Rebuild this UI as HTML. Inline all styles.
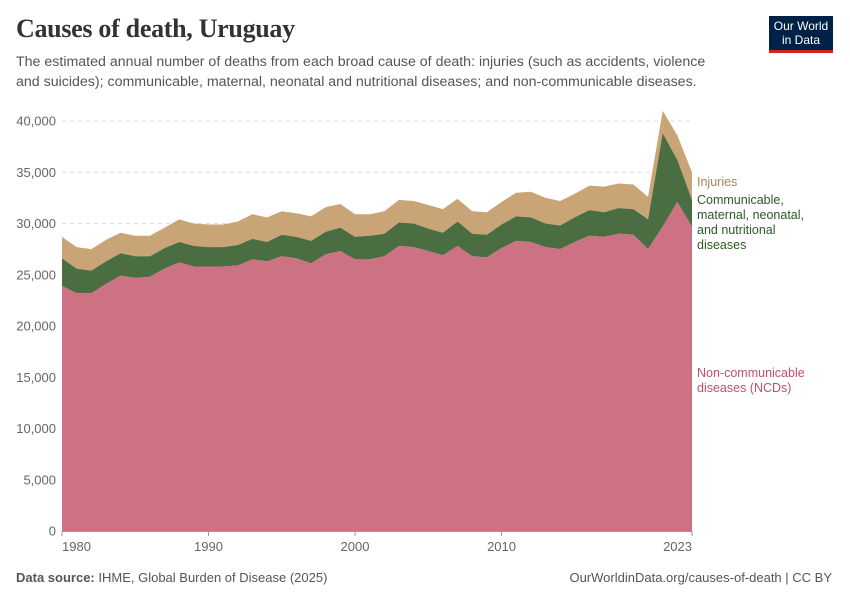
<!DOCTYPE html>
<html><head><meta charset="utf-8"><style>
body{margin:0;background:#fff;font-family:"Liberation Sans",sans-serif;}
#wrap{position:relative;width:850px;height:600px;overflow:hidden;}
.t{position:absolute;white-space:nowrap;}
</style></head><body>
<div id="wrap">
<div class="t" style="left:16px;top:14px;font-family:'Liberation Serif',serif;font-size:26px;font-weight:bold;color:#333;letter-spacing:-0.3px;">Causes of death, Uruguay</div>
<div class="t" style="left:16px;top:52px;font-size:14.2px;line-height:20px;color:#555;">The estimated annual number of deaths from each broad cause of death: injuries (such as accidents, violence<br>and suicides); communicable, maternal, neonatal and nutritional diseases; and non-communicable diseases.</div>
<div style="position:absolute;left:769px;top:16px;width:64px;background:#002147;border-bottom:3px solid #ce261e;color:#fff;font-size:12px;line-height:14px;text-align:center;padding-top:3px;box-sizing:border-box;height:37px;">Our World<br>in Data</div>
<svg id="chart" width="850" height="600" style="position:absolute;left:0;top:0"></svg>
<div class="t" style="left:16px;top:570px;font-size:13px;color:#555;"><b>Data source:</b> IHME, Global Burden of Disease (2025)</div>
<div class="t" style="right:18px;top:570px;font-size:13px;color:#555;">OurWorldinData.org/causes-of-death | CC BY</div>
</div>
<script>
const years=[];for(let y=1980;y<=2023;y++)years.push(y);
const ncd=[23900,23200,23200,24100,24900,24700,24800,25600,26200,25800,25800,25800,25900,26500,26300,26800,26600,26100,27000,27300,26500,26500,26800,27800,27700,27300,26900,27800,26800,26700,27600,28300,28200,27700,27500,28200,28800,28700,29000,28900,27500,29700,32100,29700];
const comm=[2700,2400,2200,2200,2200,2100,2000,2000,2000,2000,1900,1900,2000,2000,1900,2100,2100,2200,2200,2300,2200,2300,2200,2300,2300,2200,2200,2400,2200,2200,2300,2400,2400,2300,2300,2400,2500,2400,2500,2500,2900,9100,4100,2600];
const inj=[2100,2100,2100,2100,2000,2000,2000,2000,2200,2200,2200,2200,2300,2400,2400,2300,2300,2400,2400,2300,2200,2100,2200,2200,2200,2300,2300,2200,2200,2200,2200,2300,2500,2500,2400,2300,2400,2500,2400,2400,2200,2200,2400,2700];
const yTicks=[0,5000,10000,15000,20000,25000,30000,35000,40000];
const xTicks=[1980,1990,2000,2010,2023];
const svg=document.getElementById('chart');const NS='http://www.w3.org/2000/svg';
const X=y=>62+(y-1980)*(630/43);const Y=v=>531-v*0.01025;
function mk(t,a){const e=document.createElementNS(NS,t);for(const k in a)e.setAttribute(k,a[k]);svg.appendChild(e);return e;}
yTicks.forEach(v=>{
 if(v>0){const l=mk('line',{x1:62,x2:692,y1:Y(v),y2:Y(v),stroke:'#ddd','stroke-dasharray':'4,4'});
 
 }
 const t=mk('text',{x:56,y:Y(v)+4.5,'text-anchor':'end','font-size':13,fill:'#666','font-family':'Liberation Sans'});t.textContent=v.toLocaleString('en-US');
 
 
});
const c1=ncd.map((v,i)=>v+comm[i]);const c2=c1.map((v,i)=>v+inj[i]);
const base=ncd.map(()=>0);
function area(lo,hi,col,name){
 let d='M'+years.map((y,i)=>X(y)+','+Y(hi[i])).join('L');
 for(let i=years.length-1;i>=0;i--)d+='L'+X(years[i])+','+Y(lo[i]);
 const p=mk('path',{d:d+'Z',fill:col});
 
 
}
area(c1,c2,'#c9a477','area-injuries');
area(ncd,c1,'#4a6e41','area-communicable');
area(base,ncd,'#cc7282','area-ncd');
const ax=mk('line',{x1:62,x2:692,y1:531.5,y2:531.5,stroke:'#999'});


xTicks.forEach((y,i)=>{
 const tk=mk('line',{x1:X(y),x2:X(y),y1:531,y2:536,stroke:'#999'});
 
 
 const anc=i===0?'start':(i===xTicks.length-1?'end':'middle');
 const t=mk('text',{x:X(y),y:551,'text-anchor':anc,'font-size':13,fill:'#666','font-family':'Liberation Sans'});t.textContent=y;
 
 
});
function lab(lines,y0,col,name){lines.forEach((s,i)=>{const t=mk('text',{x:697,y:y0+i*15,'font-size':12.5,fill:col,'font-family':'Liberation Sans'});t.textContent=s;
 
 });}
lab(['Injuries'],186,'#a9855a','legend-injuries');
lab(['Communicable,','maternal, neonatal,','and nutritional','diseases'],204,'#2d5a27','legend-communicable');
lab(['Non-communicable','diseases (NCDs)'],377,'#c0506a','legend-ncd');
</script>
</body></html>
